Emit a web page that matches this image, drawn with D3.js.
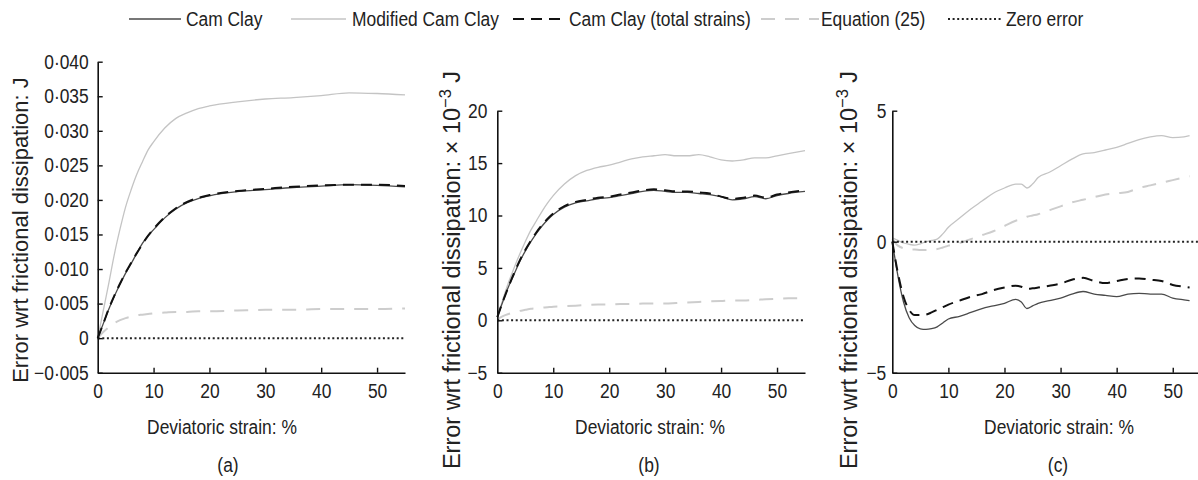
<!DOCTYPE html>
<html>
<head>
<meta charset="utf-8">
<script src="https://cdn.jsdelivr.net/npm/d3@7"></script>
<style>
  html, body { margin: 0; padding: 0; background: #fff; }
  svg text { font-family: "Liberation Sans", Arial, sans-serif; fill: #222; }
</style>
</head>
<body>
<svg id="chart" width="1198" height="480"></svg>
<script>
// ---- data -------------------------------------------------------------
// Panel (a): error in J
const strainA = [0,1,2,3,4,5,6,7,8,9,10,12,14,16,18,20,25,30,35,40,45,50,55];
const camClayA = [0,0.0021,0.0042,0.0061,0.0078,0.0094,0.0108,0.0123,0.0137,0.0148,0.0157,0.0174,0.0187,0.0196,0.0202,0.0206,0.0212,0.0215,0.0218,0.0220,0.0222,0.0221,0.0219];
const modCamClayA = [0,0.0040,0.0080,0.0122,0.0158,0.0190,0.0215,0.0237,0.0255,0.0272,0.0284,0.0304,0.0318,0.0326,0.0332,0.0336,0.0342,0.0346,0.0348,0.0351,0.0355,0.0354,0.0352];
const camClayTotalA = [0,0.0021,0.0043,0.0062,0.0079,0.0095,0.0109,0.0123,0.0136,0.0148,0.0158,0.0175,0.0188,0.0197,0.0203,0.0207,0.0213,0.0216,0.0219,0.0221,0.0222,0.0222,0.0220];
const equation25A = [0,0.0009,0.0016,0.0022,0.0026,0.0029,0.0031,0.0033,0.0034,0.0035,0.0036,0.0037,0.0038,0.0038,0.0039,0.0039,0.0040,0.0041,0.0041,0.0042,0.0042,0.0042,0.0043];

// Panel (b): error in 10^-3 J
const strainB = [0,1,2,3,4,5,6,7,8,9,10,12,14,16,18,20,22,24,26,28,30,32,34,36,38,40,42,44,46,48,50,52,55];
const camClayB = [0.3,1.8,3.2,4.4,5.6,6.6,7.5,8.3,9.0,9.6,10.1,10.8,11.2,11.4,11.6,11.7,11.9,12.1,12.3,12.4,12.3,12.2,12.2,12.1,12.0,11.8,11.5,11.6,11.8,11.6,11.9,12.1,12.3];
const modCamClayB = [0.3,2.0,3.6,5.0,6.3,7.5,8.6,9.5,10.4,11.2,11.9,13.0,13.8,14.3,14.6,14.8,15.1,15.4,15.6,15.7,15.8,15.7,15.7,15.8,15.6,15.3,15.2,15.3,15.5,15.5,15.7,15.9,16.2];
const camClayTotalB = [0.3,1.8,3.2,4.5,5.7,6.7,7.6,8.4,9.1,9.7,10.2,10.9,11.3,11.5,11.7,11.8,12.0,12.2,12.4,12.5,12.4,12.3,12.3,12.2,12.1,11.8,11.6,11.7,11.9,11.7,12.0,12.2,12.4];
const equation25B = [0.1,0.4,0.6,0.75,0.9,1.0,1.1,1.15,1.2,1.25,1.3,1.35,1.4,1.45,1.5,1.5,1.55,1.55,1.6,1.6,1.6,1.65,1.7,1.75,1.8,1.85,1.9,1.9,1.95,2.0,2.05,2.1,2.1];

// Panel (c): error in 10^-3 J
const strainC = [0,1,2,3,4,5,6,7,8,9,10,12,14,16,18,20,22,23,24,25,26,28,30,32,34,36,38,40,42,44,46,48,50,52,53];
const camClayC = [0,-1.3,-2.3,-2.9,-3.2,-3.33,-3.35,-3.32,-3.25,-3.1,-2.95,-2.85,-2.7,-2.55,-2.45,-2.35,-2.2,-2.3,-2.55,-2.45,-2.35,-2.25,-2.15,-2.0,-1.9,-2.0,-2.05,-2.1,-2.0,-1.97,-2.0,-2.0,-2.15,-2.22,-2.25];
const modCamClayC = [0.15,0.05,-0.05,-0.1,-0.13,-0.08,0.0,0.05,0.1,0.3,0.55,0.9,1.25,1.55,1.85,2.05,2.2,2.2,2.05,2.2,2.45,2.65,2.9,3.15,3.35,3.4,3.5,3.6,3.75,3.9,4.0,4.05,3.97,4.0,4.05];
const camClayTotalC = [0,-1.2,-2.1,-2.6,-2.8,-2.8,-2.78,-2.7,-2.6,-2.5,-2.4,-2.25,-2.1,-2.0,-1.85,-1.75,-1.68,-1.72,-1.8,-1.78,-1.75,-1.68,-1.6,-1.45,-1.38,-1.5,-1.58,-1.5,-1.42,-1.4,-1.45,-1.5,-1.65,-1.72,-1.75];
const equation25C = [0.1,-0.15,-0.25,-0.3,-0.3,-0.32,-0.32,-0.3,-0.28,-0.22,-0.15,-0.05,0.1,0.25,0.4,0.6,0.8,0.85,0.95,1.0,1.05,1.2,1.35,1.5,1.6,1.7,1.8,1.85,1.9,2.05,2.15,2.25,2.35,2.45,2.5];

// Axis ticks
const strainTicks = [0,10,20,30,40,50];
const yTicksA = [-0.005,0,0.005,0.010,0.015,0.020,0.025,0.030,0.035,0.040];
const yTicksB = [-5,0,5,10,15,20];
const yTicksC = [-5,0,5];

const seriesNames = ["Cam Clay","Modified Cam Clay","Cam Clay (total strains)","Equation (25)","Zero error"];

// ---- styles -----------------------------------------------------------
const styles = {
  "Cam Clay":                 {stroke:"#4a4a4a", width:1.3, dash:null},
  "Modified Cam Clay":        {stroke:"#c4c4c4", width:1.3, dash:null},
  "Cam Clay (total strains)": {stroke:"#111111", width:2.0, dash:"11,7"},
  "Equation (25)":            {stroke:"#cdcdcd", width:2.0, dash:"14,10"},
  "Zero error":               {stroke:"#222222", width:2.0, dash:"2,2.6"}
};

const svg = d3.select("#chart");
const FS = 20;      // base text size
const SX = 0.87;    // horizontal condensing of the narrow type

// Condense a text element horizontally while keeping its anchor point.
function condense(sel, sx) {
  sel.each(function () {
    const t = d3.select(this);
    const x = +(t.attr("x") || 0);
    const prev = t.attr("transform") || "";
    t.attr("x", x / sx).attr("transform", (prev + ` scale(${sx},1)`).trim());
  });
}

function fmtA(v) {
  if (Math.abs(v) < 1e-12) return "0";
  return (v < 0 ? "\u2212" : "") + Math.abs(v).toFixed(3).replace(".", "\u00b7");
}
function fmtInt(v) {
  return v < 0 ? "\u2212" + Math.abs(v) : String(v);
}

function drawPanel(cfg) {
  const x = d3.scaleLinear().domain([0, 55]).range([cfg.left, cfg.right]);
  const y = d3.scaleLinear().domain(cfg.yDomain).range([cfg.bottom, cfg.top]);
  const g = svg.append("g");

  // series (light lines underneath, dark lines on top)
  const order = ["Modified Cam Clay","Equation (25)","Cam Clay","Cam Clay (total strains)"];
  const line = d3.line().x(d => x(d[0])).y(d => y(d[1])).curve(d3.curveMonotoneX);
  order.forEach(name => {
    const vals = cfg.series[name];
    const pts = cfg.strain.map((s, i) => [s, vals[i]]);
    const st = styles[name];
    g.append("path")
      .attr("d", line(pts))
      .attr("fill", "none")
      .attr("stroke", st.stroke)
      .attr("stroke-width", st.width)
      .attr("stroke-dasharray", st.dash)
      .attr("stroke-linejoin", "round");
  });

  // zero error reference
  const z = styles["Zero error"];
  g.append("line")
    .attr("x1", x(0)).attr("x2", x(55))
    .attr("y1", y(0)).attr("y2", y(0))
    .attr("stroke", z.stroke).attr("stroke-width", z.width)
    .attr("stroke-dasharray", z.dash);

  // axes
  const xAxis = d3.axisBottom(x).tickValues(strainTicks).tickSize(-5).tickSizeOuter(0).tickPadding(11);
  const gx = g.append("g").attr("transform", `translate(0,${cfg.bottom})`).call(xAxis);
  const yAxis = d3.axisLeft(y).tickValues(cfg.yTicks).tickFormat(cfg.fmt).tickSize(-5).tickSizeOuter(0).tickPadding(cfg.yPad);
  const gy = g.append("g").attr("transform", `translate(${cfg.left},0)`).call(yAxis);
  [gx, gy].forEach(a => {
    a.select(".domain").attr("stroke", "#111").attr("stroke-width", 1.6);
    a.selectAll(".tick line").attr("stroke", "#111").attr("stroke-width", 1.4);
    a.selectAll(".tick text").attr("font-size", FS).attr("fill", "#222")
      .style("font-family", '"Liberation Sans", Arial, sans-serif');
    condense(a.selectAll(".tick text"), SX);
  });
  gx.selectAll(".tick").filter(d => d === 0).select("line").remove();

  // axis titles
  condense(g.append("text")
    .attr("x", cfg.xTitleX).attr("y", 434)
    .attr("text-anchor", "middle").attr("font-size", FS)
    .text("Deviatoric strain: %"), SX);
  condense(g.append("text")
    .attr("x", cfg.captionX).attr("y", 472)
    .attr("text-anchor", "middle").attr("font-size", FS)
    .text(cfg.caption), SX);

  const yl = g.append("text")
    .attr("transform", `translate(${cfg.yTitleX},${cfg.yTitleY}) rotate(-90)`)
    .attr("text-anchor", "middle").attr("font-size", cfg.yTitleSize);
  if (cfg.scaled) {
    yl.append("tspan").text("Error wrt frictional dissipation: \u00d7 10");
    yl.append("tspan").attr("dy", -9).attr("font-size", cfg.yTitleSize * 0.7).text("\u22123");
    yl.append("tspan").attr("dy", 9).text(" J");
  } else {
    yl.text("Error wrt frictional dissipation: J");
  }
}

drawPanel({
  left: 97.7, right: 405, top: 61.7, bottom: 372.7,
  yDomain: [-0.005, 0.040], yTicks: yTicksA, fmt: fmtA, yPad: 9,
  strain: strainA,
  series: {"Cam Clay": camClayA, "Modified Cam Clay": modCamClayA, "Cam Clay (total strains)": camClayTotalA, "Equation (25)": equation25A},
  xTitleX: 222, captionX: 228, caption: "(a)",
  yTitleX: 28, yTitleY: 230, yTitleSize: 22, scaled: false
});
drawPanel({
  left: 497.3, right: 805, top: 110.7, bottom: 372.7,
  yDomain: [-5, 20], yTicks: yTicksB, fmt: fmtInt, yPad: 10,
  strain: strainB,
  series: {"Cam Clay": camClayB, "Modified Cam Clay": modCamClayB, "Cam Clay (total strains)": camClayTotalB, "Equation (25)": equation25B},
  xTitleX: 650, captionX: 649, caption: "(b)",
  yTitleX: 460, yTitleY: 270, yTitleSize: 23.5, scaled: true
});
drawPanel({
  left: 892.3, right: 1200.8, top: 110.7, bottom: 372.7,
  yDomain: [-5, 5], yTicks: yTicksC, fmt: fmtInt, yPad: 6,
  strain: strainC,
  series: {"Cam Clay": camClayC, "Modified Cam Clay": modCamClayC, "Cam Clay (total strains)": camClayTotalC, "Equation (25)": equation25C},
  xTitleX: 1059, captionX: 1058, caption: "(c)",
  yTitleX: 857, yTitleY: 270, yTitleSize: 23.5, scaled: true
});

// ---- legend -----------------------------------------------------------
const legendPos = [
  {x1:129, x2:181, tx:186},
  {x1:291, x2:346, tx:352},
  {x1:513, x2:567, tx:569},
  {x1:761, x2:819, tx:821},
  {x1:948, x2:1003, tx:1006}
];
const leg = svg.append("g");
seriesNames.forEach((name, i) => {
  const p = legendPos[i], st = styles[name];
  leg.append("line")
    .attr("x1", p.x1).attr("x2", p.x2).attr("y1", 19).attr("y2", 19)
    .attr("stroke", st.stroke).attr("stroke-width", st.width)
    .attr("stroke-dasharray", st.dash);
  condense(leg.append("text")
    .attr("x", p.tx).attr("y", 26)
    .attr("font-size", FS)
    .text(name), SX);
});
</script>
</body>
</html>
